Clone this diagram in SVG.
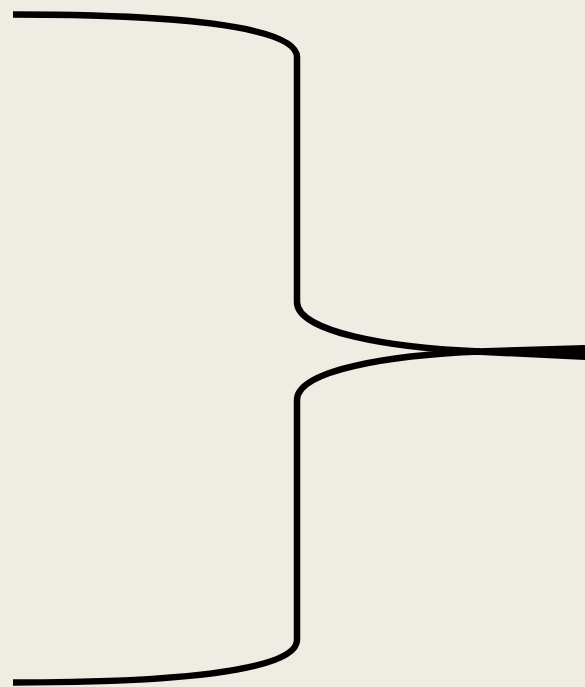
<svg xmlns="http://www.w3.org/2000/svg" width="585" height="687" viewBox="0 0 585 687">
<style>.b{fill:none;stroke:#000;stroke-width:6.5;stroke-linejoin:round}</style>
<rect width="585" height="687" fill="#efece4"/>
<g id="brace">
<path class="b" d="M13,14.5 C160,14.5 297,24 297,57 L297,302 C297,332 390,348 480,351.5"/>
<path class="b" d="M13,682.5 C160,682.5 297,673 297,640 L297,400 C297,370 390,355 480,351.5"/>
<path d="M470,348.5 L585,345 L585,360 L470,354.5 Z" fill="#000"/>
</g>
</svg>
